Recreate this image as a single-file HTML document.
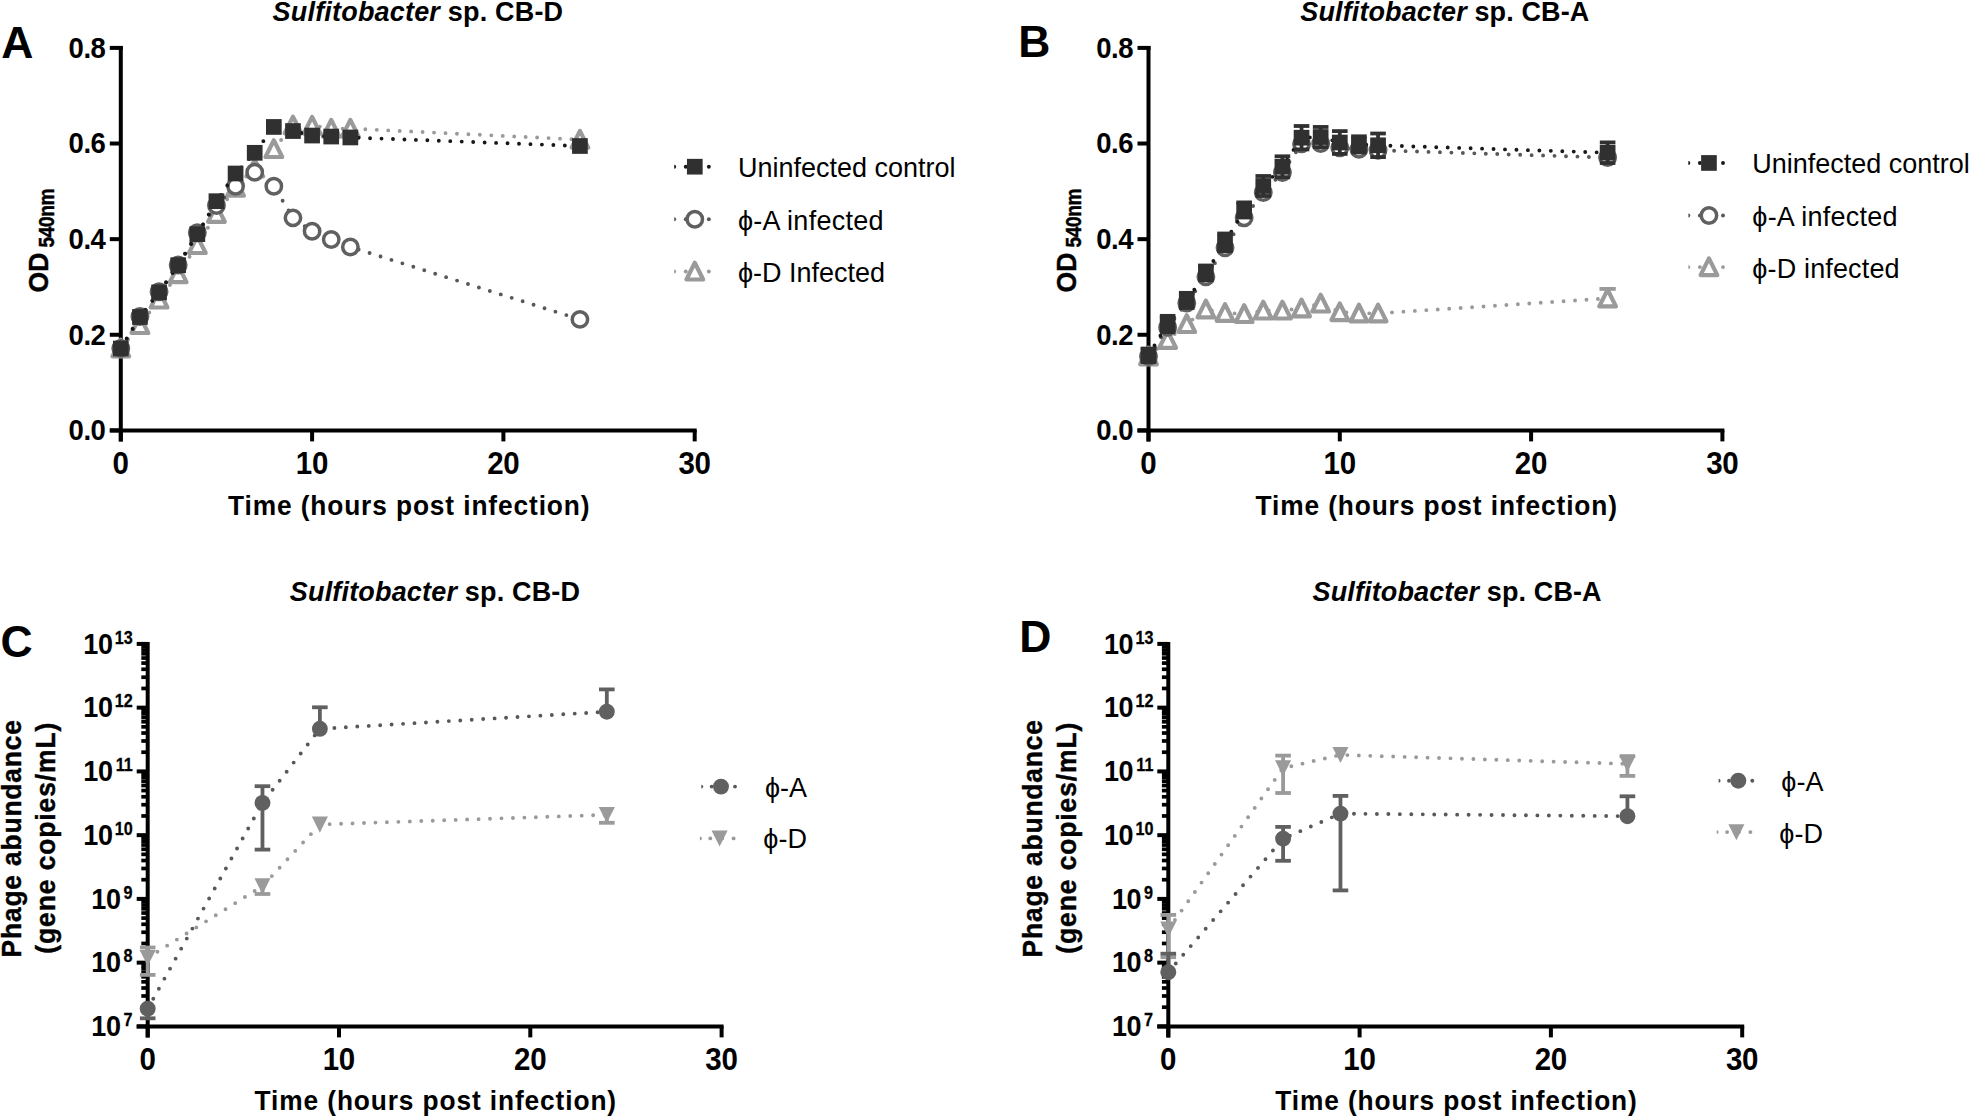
<!DOCTYPE html>
<html lang="en"><head><meta charset="utf-8"><title>Sulfitobacter phage infection figure</title>
<style>html,body{margin:0;padding:0;background:#fff;}body{width:1970px;height:1118px;overflow:hidden;}svg{display:block;font-family:'Liberation Sans', sans-serif;}</style></head><body>
<svg width="1970" height="1118" viewBox="0 0 1970 1118" role="img" aria-label="Growth curves and phage abundance for Sulfitobacter sp. CB-D and CB-A">
<rect width="1970" height="1118" fill="#fff"/>
<line x1="120.8" y1="45.9" x2="120.8" y2="441.4" stroke="#000" stroke-width="4" stroke-linecap="butt"/>
<line x1="109.8" y1="430.4" x2="696.7" y2="430.4" stroke="#000" stroke-width="4" stroke-linecap="butt"/>
<line x1="109.8" y1="430.4" x2="120.8" y2="430.4" stroke="#000" stroke-width="4" stroke-linecap="butt"/>
<text transform="translate(105.8 440.3) scale(1 1.08)" font-size="27.5" font-weight="bold" text-anchor="end" fill="#000" textLength="37.2" lengthAdjust="spacing">0.0</text>
<line x1="109.8" y1="334.77" x2="120.8" y2="334.77" stroke="#000" stroke-width="4" stroke-linecap="butt"/>
<text transform="translate(105.8 344.67) scale(1 1.08)" font-size="27.5" font-weight="bold" text-anchor="end" fill="#000" textLength="37.2" lengthAdjust="spacing">0.2</text>
<line x1="109.8" y1="239.15" x2="120.8" y2="239.15" stroke="#000" stroke-width="4" stroke-linecap="butt"/>
<text transform="translate(105.8 249.05) scale(1 1.08)" font-size="27.5" font-weight="bold" text-anchor="end" fill="#000" textLength="37.2" lengthAdjust="spacing">0.4</text>
<line x1="109.8" y1="143.52" x2="120.8" y2="143.52" stroke="#000" stroke-width="4" stroke-linecap="butt"/>
<text transform="translate(105.8 153.42) scale(1 1.08)" font-size="27.5" font-weight="bold" text-anchor="end" fill="#000" textLength="37.2" lengthAdjust="spacing">0.6</text>
<line x1="109.8" y1="47.9" x2="122.8" y2="47.9" stroke="#000" stroke-width="4" stroke-linecap="butt"/>
<text transform="translate(105.8 57.8) scale(1 1.08)" font-size="27.5" font-weight="bold" text-anchor="end" fill="#000" textLength="37.2" lengthAdjust="spacing">0.8</text>
<line x1="120.8" y1="430.4" x2="120.8" y2="441.4" stroke="#000" stroke-width="4" stroke-linecap="butt"/>
<text transform="translate(120.8 474.2) scale(1 1.04)" font-size="29.5" font-weight="bold" text-anchor="middle" fill="#000">0</text>
<line x1="312.1" y1="430.4" x2="312.1" y2="441.4" stroke="#000" stroke-width="4" stroke-linecap="butt"/>
<text transform="translate(312.1 474.2) scale(1 1.04)" font-size="29.5" font-weight="bold" text-anchor="middle" fill="#000" textLength="32.5" lengthAdjust="spacing">10</text>
<line x1="503.4" y1="430.4" x2="503.4" y2="441.4" stroke="#000" stroke-width="4" stroke-linecap="butt"/>
<text transform="translate(503.4 474.2) scale(1 1.04)" font-size="29.5" font-weight="bold" text-anchor="middle" fill="#000" textLength="32.5" lengthAdjust="spacing">20</text>
<line x1="694.7" y1="430.4" x2="694.7" y2="441.4" stroke="#000" stroke-width="4" stroke-linecap="butt"/>
<text transform="translate(694.7 474.2) scale(1 1.04)" font-size="29.5" font-weight="bold" text-anchor="middle" fill="#000" textLength="32.5" lengthAdjust="spacing">30</text>
<text transform="translate(1.2 57.5)" font-size="44.5" font-weight="bold" text-anchor="start" fill="#000">A</text>
<text transform="translate(272.6 21.4) scale(1 1.03)" font-size="27" font-weight="bold" fill="#000" textLength="290.5" lengthAdjust="spacing"><tspan font-style="italic">Sulfitobacter</tspan> sp. CB-D</text>
<text transform="translate(228 514.7) scale(1 1.04)" font-size="26.3" font-weight="bold" text-anchor="start" fill="#000" textLength="361.5" lengthAdjust="spacing">Time (hours post infection)</text>
<text transform="translate(48 292.4) rotate(-90) scale(1 1.07)" font-size="26.5" font-weight="bold" text-anchor="start" fill="#000" stroke="#000" stroke-width="0.4">OD</text>
<text transform="translate(53.6 247.4) rotate(-90) scale(1 1.13)" font-size="19" font-weight="bold" text-anchor="start" fill="#000" textLength="58.8" lengthAdjust="spacing" stroke="#000" stroke-width="0.4">540nm</text>
<line x1="1148.5" y1="45.9" x2="1148.5" y2="441.4" stroke="#000" stroke-width="4" stroke-linecap="butt"/>
<line x1="1137.5" y1="430.4" x2="1724.4" y2="430.4" stroke="#000" stroke-width="4" stroke-linecap="butt"/>
<line x1="1137.5" y1="430.4" x2="1148.5" y2="430.4" stroke="#000" stroke-width="4" stroke-linecap="butt"/>
<text transform="translate(1133.5 440.3) scale(1 1.08)" font-size="27.5" font-weight="bold" text-anchor="end" fill="#000" textLength="37.2" lengthAdjust="spacing">0.0</text>
<line x1="1137.5" y1="334.77" x2="1148.5" y2="334.77" stroke="#000" stroke-width="4" stroke-linecap="butt"/>
<text transform="translate(1133.5 344.67) scale(1 1.08)" font-size="27.5" font-weight="bold" text-anchor="end" fill="#000" textLength="37.2" lengthAdjust="spacing">0.2</text>
<line x1="1137.5" y1="239.15" x2="1148.5" y2="239.15" stroke="#000" stroke-width="4" stroke-linecap="butt"/>
<text transform="translate(1133.5 249.05) scale(1 1.08)" font-size="27.5" font-weight="bold" text-anchor="end" fill="#000" textLength="37.2" lengthAdjust="spacing">0.4</text>
<line x1="1137.5" y1="143.52" x2="1148.5" y2="143.52" stroke="#000" stroke-width="4" stroke-linecap="butt"/>
<text transform="translate(1133.5 153.42) scale(1 1.08)" font-size="27.5" font-weight="bold" text-anchor="end" fill="#000" textLength="37.2" lengthAdjust="spacing">0.6</text>
<line x1="1137.5" y1="47.9" x2="1150.5" y2="47.9" stroke="#000" stroke-width="4" stroke-linecap="butt"/>
<text transform="translate(1133.5 57.8) scale(1 1.08)" font-size="27.5" font-weight="bold" text-anchor="end" fill="#000" textLength="37.2" lengthAdjust="spacing">0.8</text>
<line x1="1148.5" y1="430.4" x2="1148.5" y2="441.4" stroke="#000" stroke-width="4" stroke-linecap="butt"/>
<text transform="translate(1148.5 474.2) scale(1 1.04)" font-size="29.5" font-weight="bold" text-anchor="middle" fill="#000">0</text>
<line x1="1339.8" y1="430.4" x2="1339.8" y2="441.4" stroke="#000" stroke-width="4" stroke-linecap="butt"/>
<text transform="translate(1339.8 474.2) scale(1 1.04)" font-size="29.5" font-weight="bold" text-anchor="middle" fill="#000" textLength="32.5" lengthAdjust="spacing">10</text>
<line x1="1531.1" y1="430.4" x2="1531.1" y2="441.4" stroke="#000" stroke-width="4" stroke-linecap="butt"/>
<text transform="translate(1531.1 474.2) scale(1 1.04)" font-size="29.5" font-weight="bold" text-anchor="middle" fill="#000" textLength="32.5" lengthAdjust="spacing">20</text>
<line x1="1722.4" y1="430.4" x2="1722.4" y2="441.4" stroke="#000" stroke-width="4" stroke-linecap="butt"/>
<text transform="translate(1722.4 474.2) scale(1 1.04)" font-size="29.5" font-weight="bold" text-anchor="middle" fill="#000" textLength="32.5" lengthAdjust="spacing">30</text>
<text transform="translate(1018.2 57)" font-size="44.5" font-weight="bold" text-anchor="start" fill="#000">B</text>
<text transform="translate(1300.3 21.4) scale(1 1.03)" font-size="27" font-weight="bold" fill="#000" textLength="289" lengthAdjust="spacing"><tspan font-style="italic">Sulfitobacter</tspan> sp. CB-A</text>
<text transform="translate(1255.5 514.7) scale(1 1.04)" font-size="26.3" font-weight="bold" text-anchor="start" fill="#000" textLength="361.5" lengthAdjust="spacing">Time (hours post infection)</text>
<text transform="translate(1075.5 292.4) rotate(-90) scale(1 1.07)" font-size="26.5" font-weight="bold" text-anchor="start" fill="#000" stroke="#000" stroke-width="0.4">OD</text>
<text transform="translate(1081.1 247.4) rotate(-90) scale(1 1.13)" font-size="19" font-weight="bold" text-anchor="start" fill="#000" textLength="58.8" lengthAdjust="spacing" stroke="#000" stroke-width="0.4">540nm</text>
<path d="M120.8 348.4 L139.93 325 L159.06 299.5 L178.19 274.1 L197.32 245 L216.45 213.8 L235.58 187.6 L254.71 168.4 L273.84 149 L292.97 125.3 L312.1 125.6 L331.23 128.6 L350.36 128.6" fill="none" stroke="#9a9a9a" stroke-width="3.9" stroke-linecap="round" stroke-linejoin="round" stroke-dasharray="0 11.464"/>
<path d="M350.36 128.6 L579.92 139.6" fill="none" stroke="#9a9a9a" stroke-width="3.9" stroke-linecap="round" stroke-dasharray="0 11.464" stroke-dashoffset="-3.54"/>
<path d="M120.8 339.7 L129.15 356.4 L112.45 356.4 Z" fill="#fff" stroke="#9a9a9a" stroke-width="4.2" stroke-linejoin="round"/>
<path d="M139.93 316.3 L148.28 333 L131.58 333 Z" fill="#fff" stroke="#9a9a9a" stroke-width="4.2" stroke-linejoin="round"/>
<path d="M159.06 290.8 L167.41 307.5 L150.71 307.5 Z" fill="#fff" stroke="#9a9a9a" stroke-width="4.2" stroke-linejoin="round"/>
<path d="M178.19 265.4 L186.54 282.1 L169.84 282.1 Z" fill="#fff" stroke="#9a9a9a" stroke-width="4.2" stroke-linejoin="round"/>
<path d="M197.32 236.3 L205.67 253 L188.97 253 Z" fill="#fff" stroke="#9a9a9a" stroke-width="4.2" stroke-linejoin="round"/>
<path d="M216.45 205.1 L224.8 221.8 L208.1 221.8 Z" fill="#fff" stroke="#9a9a9a" stroke-width="4.2" stroke-linejoin="round"/>
<path d="M235.58 178.9 L243.93 195.6 L227.23 195.6 Z" fill="#fff" stroke="#9a9a9a" stroke-width="4.2" stroke-linejoin="round"/>
<path d="M254.71 159.7 L263.06 176.4 L246.36 176.4 Z" fill="#fff" stroke="#9a9a9a" stroke-width="4.2" stroke-linejoin="round"/>
<path d="M273.84 140.3 L282.19 157 L265.49 157 Z" fill="#fff" stroke="#9a9a9a" stroke-width="4.2" stroke-linejoin="round"/>
<path d="M292.97 116.6 L301.32 133.3 L284.62 133.3 Z" fill="#fff" stroke="#9a9a9a" stroke-width="4.2" stroke-linejoin="round"/>
<path d="M312.1 116.9 L320.45 133.6 L303.75 133.6 Z" fill="#fff" stroke="#9a9a9a" stroke-width="4.2" stroke-linejoin="round"/>
<path d="M331.23 119.9 L339.58 136.6 L322.88 136.6 Z" fill="#fff" stroke="#9a9a9a" stroke-width="4.2" stroke-linejoin="round"/>
<path d="M350.36 119.9 L358.71 136.6 L342.01 136.6 Z" fill="#fff" stroke="#9a9a9a" stroke-width="4.2" stroke-linejoin="round"/>
<path d="M579.92 130.9 L588.27 147.6 L571.57 147.6 Z" fill="#fff" stroke="#9a9a9a" stroke-width="4.2" stroke-linejoin="round"/>
<path d="M120.8 348.4 L139.93 316.5 L159.06 291.8 L178.19 265 L197.32 232.8 L216.45 205.5 L235.58 186.3 L254.71 172.25 L273.84 186.2 L292.97 217.85 L312.1 231.3 L331.23 239.55 L350.36 246.95" fill="none" stroke="#585858" stroke-width="3.9" stroke-linecap="round" stroke-linejoin="round" stroke-dasharray="0 11.464"/>
<path d="M350.36 246.95 L579.92 319.4" fill="none" stroke="#585858" stroke-width="3.9" stroke-linecap="round" stroke-dasharray="0 11.464" stroke-dashoffset="-8.7"/>
<circle cx="120.8" cy="348.4" r="7.7" fill="#fff" stroke="#606060" stroke-width="3.5"/>
<circle cx="139.93" cy="316.5" r="7.7" fill="#fff" stroke="#606060" stroke-width="3.5"/>
<circle cx="159.06" cy="291.8" r="7.7" fill="#fff" stroke="#606060" stroke-width="3.5"/>
<circle cx="178.19" cy="265" r="7.7" fill="#fff" stroke="#606060" stroke-width="3.5"/>
<circle cx="197.32" cy="232.8" r="7.7" fill="#fff" stroke="#606060" stroke-width="3.5"/>
<circle cx="216.45" cy="205.5" r="7.7" fill="#fff" stroke="#606060" stroke-width="3.5"/>
<circle cx="235.58" cy="186.3" r="7.7" fill="#fff" stroke="#606060" stroke-width="3.5"/>
<circle cx="254.71" cy="172.25" r="7.7" fill="#fff" stroke="#606060" stroke-width="3.5"/>
<circle cx="273.84" cy="186.2" r="7.7" fill="#fff" stroke="#606060" stroke-width="3.5"/>
<circle cx="292.97" cy="217.85" r="7.7" fill="#fff" stroke="#606060" stroke-width="3.5"/>
<circle cx="312.1" cy="231.3" r="7.7" fill="#fff" stroke="#606060" stroke-width="3.5"/>
<circle cx="331.23" cy="239.55" r="7.7" fill="#fff" stroke="#606060" stroke-width="3.5"/>
<circle cx="350.36" cy="246.95" r="7.7" fill="#fff" stroke="#606060" stroke-width="3.5"/>
<circle cx="579.92" cy="319.4" r="7.7" fill="#fff" stroke="#606060" stroke-width="3.5"/>
<path d="M120.8 348.5 L139.93 317 L159.06 292.4 L178.19 265.2 L197.32 234.15 L216.45 201.2 L235.58 173.5 L254.71 152.8 L273.84 126.95 L292.97 131.05 L312.1 135.55 L331.23 136.55 L350.36 137.45" fill="none" stroke="#181818" stroke-width="3.9" stroke-linecap="round" stroke-linejoin="round" stroke-dasharray="0 11.464"/>
<path d="M350.36 137.45 L579.92 146" fill="none" stroke="#181818" stroke-width="3.9" stroke-linecap="round" stroke-dasharray="0 11.464" stroke-dashoffset="-8.26"/>
<rect x="112.95" y="340.65" width="15.7" height="15.7" fill="#303030"/>
<rect x="132.08" y="309.15" width="15.7" height="15.7" fill="#303030"/>
<rect x="151.21" y="284.55" width="15.7" height="15.7" fill="#303030"/>
<rect x="170.34" y="257.35" width="15.7" height="15.7" fill="#303030"/>
<rect x="189.47" y="226.3" width="15.7" height="15.7" fill="#303030"/>
<rect x="208.6" y="193.35" width="15.7" height="15.7" fill="#303030"/>
<rect x="227.73" y="165.65" width="15.7" height="15.7" fill="#303030"/>
<rect x="246.86" y="144.95" width="15.7" height="15.7" fill="#303030"/>
<rect x="265.99" y="119.1" width="15.7" height="15.7" fill="#303030"/>
<rect x="285.12" y="123.2" width="15.7" height="15.7" fill="#303030"/>
<rect x="304.25" y="127.7" width="15.7" height="15.7" fill="#303030"/>
<rect x="323.38" y="128.7" width="15.7" height="15.7" fill="#303030"/>
<rect x="342.51" y="129.6" width="15.7" height="15.7" fill="#303030"/>
<rect x="572.07" y="138.15" width="15.7" height="15.7" fill="#303030"/>
<circle cx="674.2" cy="166.7" r="1.95" fill="#181818"/>
<circle cx="685.75" cy="166.7" r="1.95" fill="#181818"/>
<circle cx="697.3" cy="166.7" r="1.95" fill="#181818"/>
<circle cx="708.85" cy="166.7" r="1.95" fill="#181818"/>
<rect x="670.8" y="163.7" width="3.4" height="6" fill="#fff"/>
<circle cx="674.2" cy="219.3" r="1.95" fill="#585858"/>
<circle cx="685.75" cy="219.3" r="1.95" fill="#585858"/>
<circle cx="697.3" cy="219.3" r="1.95" fill="#585858"/>
<circle cx="708.85" cy="219.3" r="1.95" fill="#585858"/>
<rect x="670.8" y="216.3" width="3.4" height="6" fill="#fff"/>
<circle cx="674.2" cy="271.5" r="1.95" fill="#9a9a9a"/>
<circle cx="685.75" cy="271.5" r="1.95" fill="#9a9a9a"/>
<circle cx="697.3" cy="271.5" r="1.95" fill="#9a9a9a"/>
<circle cx="708.85" cy="271.5" r="1.95" fill="#9a9a9a"/>
<rect x="670.8" y="268.5" width="3.4" height="6" fill="#fff"/>
<rect x="686.95" y="158.85" width="15.7" height="15.7" fill="#303030"/>
<circle cx="694.8" cy="219.3" r="7.7" fill="#fff" stroke="#606060" stroke-width="3.5"/>
<path d="M694.8 262.8 L703.15 279.5 L686.45 279.5 Z" fill="#fff" stroke="#9a9a9a" stroke-width="4.2" stroke-linejoin="round"/>
<text transform="translate(737.9 177.1) scale(1 1.03)" font-size="27" font-weight="normal" text-anchor="start" fill="#000">Uninfected control</text>
<text transform="translate(737.9 230) scale(1 1.03)" font-size="27" font-weight="normal" text-anchor="start" fill="#000" textLength="145.6" lengthAdjust="spacing">ϕ-A infected</text>
<text transform="translate(737.9 281.8) scale(1 1.03)" font-size="27" font-weight="normal" text-anchor="start" fill="#000">ϕ-D Infected</text>
<circle cx="1688.35" cy="162.95" r="1.95" fill="#181818"/>
<circle cx="1699.9" cy="162.95" r="1.95" fill="#181818"/>
<circle cx="1711.45" cy="162.95" r="1.95" fill="#181818"/>
<circle cx="1723" cy="162.95" r="1.95" fill="#181818"/>
<rect x="1684.95" y="159.95" width="3.4" height="6" fill="#fff"/>
<circle cx="1688.35" cy="215.5" r="1.95" fill="#585858"/>
<circle cx="1699.9" cy="215.5" r="1.95" fill="#585858"/>
<circle cx="1711.45" cy="215.5" r="1.95" fill="#585858"/>
<circle cx="1723" cy="215.5" r="1.95" fill="#585858"/>
<rect x="1684.95" y="212.5" width="3.4" height="6" fill="#fff"/>
<circle cx="1688.35" cy="267.1" r="1.95" fill="#9a9a9a"/>
<circle cx="1699.9" cy="267.1" r="1.95" fill="#9a9a9a"/>
<circle cx="1711.45" cy="267.1" r="1.95" fill="#9a9a9a"/>
<circle cx="1723" cy="267.1" r="1.95" fill="#9a9a9a"/>
<rect x="1684.95" y="264.1" width="3.4" height="6" fill="#fff"/>
<rect x="1701.1" y="155.1" width="15.7" height="15.7" fill="#303030"/>
<circle cx="1708.95" cy="215.5" r="7.7" fill="#fff" stroke="#606060" stroke-width="3.5"/>
<path d="M1708.95 258.4 L1717.3 275.1 L1700.6 275.1 Z" fill="#fff" stroke="#9a9a9a" stroke-width="4.2" stroke-linejoin="round"/>
<text transform="translate(1752.3 173.3) scale(1 1.03)" font-size="27" font-weight="normal" text-anchor="start" fill="#000">Uninfected control</text>
<text transform="translate(1752.3 226.4) scale(1 1.03)" font-size="27" font-weight="normal" text-anchor="start" fill="#000" textLength="145.3" lengthAdjust="spacing">ϕ-A infected</text>
<text transform="translate(1752.3 277.8) scale(1 1.03)" font-size="27" font-weight="normal" text-anchor="start" fill="#000" textLength="147.3" lengthAdjust="spacing">ϕ-D infected</text>
<path d="M1148.5 356.3 L1167.63 339.8 L1186.76 324 L1205.89 309.4 L1225.02 312.8 L1244.15 314 L1263.28 310.5 L1282.41 310.5 L1301.54 308.3 L1320.67 303.5 L1339.8 312.05 L1358.93 313.45 L1378.06 313.3" fill="none" stroke="#9a9a9a" stroke-width="3.9" stroke-linecap="round" stroke-linejoin="round" stroke-dasharray="0 11.464"/>
<path d="M1378.06 313.3 L1607.62 298.4" fill="none" stroke="#9a9a9a" stroke-width="3.9" stroke-linecap="round" stroke-dasharray="0 11.464" stroke-dashoffset="-2.5"/>
<line x1="1607.62" y1="288.9" x2="1607.62" y2="300" stroke="#9a9a9a" stroke-width="3.8" stroke-linecap="butt"/>
<line x1="1599.47" y1="288.9" x2="1615.77" y2="288.9" stroke="#9a9a9a" stroke-width="3.8" stroke-linecap="butt"/>
<path d="M1148.5 347.6 L1156.85 364.3 L1140.15 364.3 Z" fill="#fff" stroke="#9a9a9a" stroke-width="4.2" stroke-linejoin="round"/>
<path d="M1167.63 331.1 L1175.98 347.8 L1159.28 347.8 Z" fill="#fff" stroke="#9a9a9a" stroke-width="4.2" stroke-linejoin="round"/>
<path d="M1186.76 315.3 L1195.11 332 L1178.41 332 Z" fill="#fff" stroke="#9a9a9a" stroke-width="4.2" stroke-linejoin="round"/>
<path d="M1205.89 300.7 L1214.24 317.4 L1197.54 317.4 Z" fill="#fff" stroke="#9a9a9a" stroke-width="4.2" stroke-linejoin="round"/>
<path d="M1225.02 304.1 L1233.37 320.8 L1216.67 320.8 Z" fill="#fff" stroke="#9a9a9a" stroke-width="4.2" stroke-linejoin="round"/>
<path d="M1244.15 305.3 L1252.5 322 L1235.8 322 Z" fill="#fff" stroke="#9a9a9a" stroke-width="4.2" stroke-linejoin="round"/>
<path d="M1263.28 301.8 L1271.63 318.5 L1254.93 318.5 Z" fill="#fff" stroke="#9a9a9a" stroke-width="4.2" stroke-linejoin="round"/>
<path d="M1282.41 301.8 L1290.76 318.5 L1274.06 318.5 Z" fill="#fff" stroke="#9a9a9a" stroke-width="4.2" stroke-linejoin="round"/>
<path d="M1301.54 299.6 L1309.89 316.3 L1293.19 316.3 Z" fill="#fff" stroke="#9a9a9a" stroke-width="4.2" stroke-linejoin="round"/>
<path d="M1320.67 294.8 L1329.02 311.5 L1312.32 311.5 Z" fill="#fff" stroke="#9a9a9a" stroke-width="4.2" stroke-linejoin="round"/>
<path d="M1339.8 303.35 L1348.15 320.05 L1331.45 320.05 Z" fill="#fff" stroke="#9a9a9a" stroke-width="4.2" stroke-linejoin="round"/>
<path d="M1358.93 304.75 L1367.28 321.45 L1350.58 321.45 Z" fill="#fff" stroke="#9a9a9a" stroke-width="4.2" stroke-linejoin="round"/>
<path d="M1378.06 304.6 L1386.41 321.3 L1369.71 321.3 Z" fill="#fff" stroke="#9a9a9a" stroke-width="4.2" stroke-linejoin="round"/>
<path d="M1607.62 289.7 L1615.97 306.4 L1599.27 306.4 Z" fill="#fff" stroke="#9a9a9a" stroke-width="4.2" stroke-linejoin="round"/>
<path d="M1148.5 356.5 L1167.63 327.4 L1186.76 303.05 L1205.89 276.85 L1225.02 247.75 L1244.15 217.75 L1263.28 192.5 L1282.41 172.5 L1301.54 143.9 L1320.67 143.5 L1339.8 147.8 L1358.93 149.25 L1378.06 150.3" fill="none" stroke="#585858" stroke-width="3.9" stroke-linecap="round" stroke-linejoin="round" stroke-dasharray="0 11.464"/>
<path d="M1378.06 150.3 L1607.62 157.55" fill="none" stroke="#585858" stroke-width="3.9" stroke-linecap="round" stroke-dasharray="0 11.464" stroke-dashoffset="-4.6"/>
<circle cx="1148.5" cy="356.5" r="7.7" fill="#fff" stroke="#606060" stroke-width="3.5"/>
<circle cx="1167.63" cy="327.4" r="7.7" fill="#fff" stroke="#606060" stroke-width="3.5"/>
<circle cx="1186.76" cy="303.05" r="7.7" fill="#fff" stroke="#606060" stroke-width="3.5"/>
<circle cx="1205.89" cy="276.85" r="7.7" fill="#fff" stroke="#606060" stroke-width="3.5"/>
<circle cx="1225.02" cy="247.75" r="7.7" fill="#fff" stroke="#606060" stroke-width="3.5"/>
<circle cx="1244.15" cy="217.75" r="7.7" fill="#fff" stroke="#606060" stroke-width="3.5"/>
<circle cx="1263.28" cy="192.5" r="7.7" fill="#fff" stroke="#606060" stroke-width="3.5"/>
<circle cx="1282.41" cy="172.5" r="7.7" fill="#fff" stroke="#606060" stroke-width="3.5"/>
<circle cx="1301.54" cy="143.9" r="7.7" fill="#fff" stroke="#606060" stroke-width="3.5"/>
<circle cx="1320.67" cy="143.5" r="7.7" fill="#fff" stroke="#606060" stroke-width="3.5"/>
<circle cx="1339.8" cy="147.8" r="7.7" fill="#fff" stroke="#606060" stroke-width="3.5"/>
<circle cx="1358.93" cy="149.25" r="7.7" fill="#fff" stroke="#606060" stroke-width="3.5"/>
<circle cx="1378.06" cy="150.3" r="7.7" fill="#fff" stroke="#606060" stroke-width="3.5"/>
<circle cx="1607.62" cy="157.55" r="7.7" fill="#fff" stroke="#606060" stroke-width="3.5"/>
<path d="M1148.5 355.3 L1167.63 323.95 L1186.76 300.4 L1205.89 272.9 L1225.02 242.35 L1244.15 209.95 L1263.28 186 L1282.41 166.75 L1301.54 137.7 L1320.67 137.05 L1339.8 142.5 L1358.93 144.4 L1378.06 145.3" fill="none" stroke="#181818" stroke-width="3.9" stroke-linecap="round" stroke-linejoin="round" stroke-dasharray="0 11.464"/>
<path d="M1378.06 145.3 L1607.62 152.7" fill="none" stroke="#181818" stroke-width="3.9" stroke-linecap="round" stroke-dasharray="0 11.464" stroke-dashoffset="-0.9"/>
<line x1="1148.5" y1="348.55" x2="1148.5" y2="362.05" stroke="#303030" stroke-width="3.8" stroke-linecap="butt"/>
<line x1="1140.7" y1="348.55" x2="1156.3" y2="348.55" stroke="#303030" stroke-width="3.8" stroke-linecap="butt"/>
<line x1="1140.7" y1="362.05" x2="1156.3" y2="362.05" stroke="#303030" stroke-width="3.8" stroke-linecap="butt"/>
<line x1="1167.63" y1="315.85" x2="1167.63" y2="332.05" stroke="#303030" stroke-width="3.8" stroke-linecap="butt"/>
<line x1="1159.83" y1="315.85" x2="1175.43" y2="315.85" stroke="#303030" stroke-width="3.8" stroke-linecap="butt"/>
<line x1="1159.83" y1="332.05" x2="1175.43" y2="332.05" stroke="#303030" stroke-width="3.8" stroke-linecap="butt"/>
<line x1="1186.76" y1="292.85" x2="1186.76" y2="307.95" stroke="#303030" stroke-width="3.8" stroke-linecap="butt"/>
<line x1="1178.96" y1="292.85" x2="1194.56" y2="292.85" stroke="#303030" stroke-width="3.8" stroke-linecap="butt"/>
<line x1="1178.96" y1="307.95" x2="1194.56" y2="307.95" stroke="#303030" stroke-width="3.8" stroke-linecap="butt"/>
<line x1="1205.89" y1="265.5" x2="1205.89" y2="280.3" stroke="#303030" stroke-width="3.8" stroke-linecap="butt"/>
<line x1="1198.09" y1="265.5" x2="1213.69" y2="265.5" stroke="#303030" stroke-width="3.8" stroke-linecap="butt"/>
<line x1="1198.09" y1="280.3" x2="1213.69" y2="280.3" stroke="#303030" stroke-width="3.8" stroke-linecap="butt"/>
<line x1="1225.02" y1="233.5" x2="1225.02" y2="251.2" stroke="#303030" stroke-width="3.8" stroke-linecap="butt"/>
<line x1="1217.22" y1="233.5" x2="1232.82" y2="233.5" stroke="#303030" stroke-width="3.8" stroke-linecap="butt"/>
<line x1="1217.22" y1="251.2" x2="1232.82" y2="251.2" stroke="#303030" stroke-width="3.8" stroke-linecap="butt"/>
<line x1="1244.15" y1="202.4" x2="1244.15" y2="217.5" stroke="#303030" stroke-width="3.8" stroke-linecap="butt"/>
<line x1="1236.35" y1="202.4" x2="1251.95" y2="202.4" stroke="#303030" stroke-width="3.8" stroke-linecap="butt"/>
<line x1="1236.35" y1="217.5" x2="1251.95" y2="217.5" stroke="#303030" stroke-width="3.8" stroke-linecap="butt"/>
<line x1="1263.28" y1="176" x2="1263.28" y2="196" stroke="#303030" stroke-width="3.8" stroke-linecap="butt"/>
<line x1="1255.48" y1="176" x2="1271.08" y2="176" stroke="#303030" stroke-width="3.8" stroke-linecap="butt"/>
<line x1="1255.48" y1="196" x2="1271.08" y2="196" stroke="#303030" stroke-width="3.8" stroke-linecap="butt"/>
<line x1="1282.41" y1="156.3" x2="1282.41" y2="177.2" stroke="#303030" stroke-width="3.8" stroke-linecap="butt"/>
<line x1="1274.61" y1="156.3" x2="1290.21" y2="156.3" stroke="#303030" stroke-width="3.8" stroke-linecap="butt"/>
<line x1="1274.61" y1="177.2" x2="1290.21" y2="177.2" stroke="#303030" stroke-width="3.8" stroke-linecap="butt"/>
<line x1="1301.54" y1="126" x2="1301.54" y2="149.4" stroke="#303030" stroke-width="3.8" stroke-linecap="butt"/>
<line x1="1293.74" y1="126" x2="1309.34" y2="126" stroke="#303030" stroke-width="3.8" stroke-linecap="butt"/>
<line x1="1293.74" y1="149.4" x2="1309.34" y2="149.4" stroke="#303030" stroke-width="3.8" stroke-linecap="butt"/>
<line x1="1320.67" y1="126.95" x2="1320.67" y2="147.15" stroke="#303030" stroke-width="3.8" stroke-linecap="butt"/>
<line x1="1312.87" y1="126.95" x2="1328.47" y2="126.95" stroke="#303030" stroke-width="3.8" stroke-linecap="butt"/>
<line x1="1312.87" y1="147.15" x2="1328.47" y2="147.15" stroke="#303030" stroke-width="3.8" stroke-linecap="butt"/>
<line x1="1339.8" y1="131.1" x2="1339.8" y2="153.9" stroke="#303030" stroke-width="3.8" stroke-linecap="butt"/>
<line x1="1332" y1="131.1" x2="1347.6" y2="131.1" stroke="#303030" stroke-width="3.8" stroke-linecap="butt"/>
<line x1="1332" y1="153.9" x2="1347.6" y2="153.9" stroke="#303030" stroke-width="3.8" stroke-linecap="butt"/>
<line x1="1358.93" y1="136.3" x2="1358.93" y2="152.5" stroke="#303030" stroke-width="3.8" stroke-linecap="butt"/>
<line x1="1351.13" y1="136.3" x2="1366.73" y2="136.3" stroke="#303030" stroke-width="3.8" stroke-linecap="butt"/>
<line x1="1351.13" y1="152.5" x2="1366.73" y2="152.5" stroke="#303030" stroke-width="3.8" stroke-linecap="butt"/>
<line x1="1378.06" y1="133.5" x2="1378.06" y2="157.1" stroke="#303030" stroke-width="3.8" stroke-linecap="butt"/>
<line x1="1370.26" y1="133.5" x2="1385.86" y2="133.5" stroke="#303030" stroke-width="3.8" stroke-linecap="butt"/>
<line x1="1370.26" y1="157.1" x2="1385.86" y2="157.1" stroke="#303030" stroke-width="3.8" stroke-linecap="butt"/>
<line x1="1607.62" y1="142.4" x2="1607.62" y2="163" stroke="#303030" stroke-width="3.8" stroke-linecap="butt"/>
<line x1="1599.82" y1="142.4" x2="1615.42" y2="142.4" stroke="#303030" stroke-width="3.8" stroke-linecap="butt"/>
<line x1="1599.82" y1="163" x2="1615.42" y2="163" stroke="#303030" stroke-width="3.8" stroke-linecap="butt"/>
<rect x="1140.65" y="347.45" width="15.7" height="15.7" fill="#303030"/>
<rect x="1159.78" y="316.1" width="15.7" height="15.7" fill="#303030"/>
<rect x="1178.91" y="292.55" width="15.7" height="15.7" fill="#303030"/>
<rect x="1198.04" y="265.05" width="15.7" height="15.7" fill="#303030"/>
<rect x="1217.17" y="234.5" width="15.7" height="15.7" fill="#303030"/>
<rect x="1236.3" y="202.1" width="15.7" height="15.7" fill="#303030"/>
<rect x="1255.43" y="178.15" width="15.7" height="15.7" fill="#303030"/>
<rect x="1274.56" y="158.9" width="15.7" height="15.7" fill="#303030"/>
<rect x="1293.69" y="129.85" width="15.7" height="15.7" fill="#303030"/>
<rect x="1312.82" y="129.2" width="15.7" height="15.7" fill="#303030"/>
<rect x="1331.95" y="134.65" width="15.7" height="15.7" fill="#303030"/>
<rect x="1351.08" y="136.55" width="15.7" height="15.7" fill="#303030"/>
<rect x="1370.21" y="137.45" width="15.7" height="15.7" fill="#303030"/>
<rect x="1599.77" y="144.85" width="15.7" height="15.7" fill="#303030"/>
<line x1="147.7" y1="641.9" x2="147.7" y2="1037.4" stroke="#000" stroke-width="4" stroke-linecap="butt"/>
<line x1="136.7" y1="1026.4" x2="723.6" y2="1026.4" stroke="#000" stroke-width="4" stroke-linecap="butt"/>
<line x1="136.7" y1="1026.4" x2="147.7" y2="1026.4" stroke="#000" stroke-width="4" stroke-linecap="butt"/>
<text transform="translate(132.5 1026.2) scale(1 1.09)" font-size="16.2" font-weight="bold" text-anchor="end" fill="#000" stroke="#000" stroke-width="0.25">7</text>
<text transform="translate(120.9 1036.1) scale(1 1.08)" font-size="27" font-weight="bold" text-anchor="end" fill="#000" textLength="29.6" lengthAdjust="spacing">10</text>
<line x1="141.3" y1="1007.21" x2="147.7" y2="1007.21" stroke="#000" stroke-width="3.7" stroke-linecap="butt"/>
<line x1="141.3" y1="995.98" x2="147.7" y2="995.98" stroke="#000" stroke-width="3.7" stroke-linecap="butt"/>
<line x1="141.3" y1="988.02" x2="147.7" y2="988.02" stroke="#000" stroke-width="3.7" stroke-linecap="butt"/>
<line x1="141.3" y1="981.84" x2="147.7" y2="981.84" stroke="#000" stroke-width="3.7" stroke-linecap="butt"/>
<line x1="141.3" y1="976.79" x2="147.7" y2="976.79" stroke="#000" stroke-width="3.7" stroke-linecap="butt"/>
<line x1="141.3" y1="972.52" x2="147.7" y2="972.52" stroke="#000" stroke-width="3.7" stroke-linecap="butt"/>
<line x1="141.3" y1="968.83" x2="147.7" y2="968.83" stroke="#000" stroke-width="3.7" stroke-linecap="butt"/>
<line x1="141.3" y1="965.57" x2="147.7" y2="965.57" stroke="#000" stroke-width="3.7" stroke-linecap="butt"/>
<line x1="136.7" y1="962.65" x2="147.7" y2="962.65" stroke="#000" stroke-width="4" stroke-linecap="butt"/>
<text transform="translate(132.5 962.45) scale(1 1.09)" font-size="16.2" font-weight="bold" text-anchor="end" fill="#000" stroke="#000" stroke-width="0.25">8</text>
<text transform="translate(120.9 972.35) scale(1 1.08)" font-size="27" font-weight="bold" text-anchor="end" fill="#000" textLength="29.6" lengthAdjust="spacing">10</text>
<line x1="141.3" y1="943.46" x2="147.7" y2="943.46" stroke="#000" stroke-width="3.7" stroke-linecap="butt"/>
<line x1="141.3" y1="932.23" x2="147.7" y2="932.23" stroke="#000" stroke-width="3.7" stroke-linecap="butt"/>
<line x1="141.3" y1="924.27" x2="147.7" y2="924.27" stroke="#000" stroke-width="3.7" stroke-linecap="butt"/>
<line x1="141.3" y1="918.09" x2="147.7" y2="918.09" stroke="#000" stroke-width="3.7" stroke-linecap="butt"/>
<line x1="141.3" y1="913.04" x2="147.7" y2="913.04" stroke="#000" stroke-width="3.7" stroke-linecap="butt"/>
<line x1="141.3" y1="908.77" x2="147.7" y2="908.77" stroke="#000" stroke-width="3.7" stroke-linecap="butt"/>
<line x1="141.3" y1="905.08" x2="147.7" y2="905.08" stroke="#000" stroke-width="3.7" stroke-linecap="butt"/>
<line x1="141.3" y1="901.82" x2="147.7" y2="901.82" stroke="#000" stroke-width="3.7" stroke-linecap="butt"/>
<line x1="136.7" y1="898.9" x2="147.7" y2="898.9" stroke="#000" stroke-width="4" stroke-linecap="butt"/>
<text transform="translate(132.5 898.7) scale(1 1.09)" font-size="16.2" font-weight="bold" text-anchor="end" fill="#000" stroke="#000" stroke-width="0.25">9</text>
<text transform="translate(120.9 908.6) scale(1 1.08)" font-size="27" font-weight="bold" text-anchor="end" fill="#000" textLength="29.6" lengthAdjust="spacing">10</text>
<line x1="141.3" y1="879.71" x2="147.7" y2="879.71" stroke="#000" stroke-width="3.7" stroke-linecap="butt"/>
<line x1="141.3" y1="868.48" x2="147.7" y2="868.48" stroke="#000" stroke-width="3.7" stroke-linecap="butt"/>
<line x1="141.3" y1="860.52" x2="147.7" y2="860.52" stroke="#000" stroke-width="3.7" stroke-linecap="butt"/>
<line x1="141.3" y1="854.34" x2="147.7" y2="854.34" stroke="#000" stroke-width="3.7" stroke-linecap="butt"/>
<line x1="141.3" y1="849.29" x2="147.7" y2="849.29" stroke="#000" stroke-width="3.7" stroke-linecap="butt"/>
<line x1="141.3" y1="845.02" x2="147.7" y2="845.02" stroke="#000" stroke-width="3.7" stroke-linecap="butt"/>
<line x1="141.3" y1="841.33" x2="147.7" y2="841.33" stroke="#000" stroke-width="3.7" stroke-linecap="butt"/>
<line x1="141.3" y1="838.07" x2="147.7" y2="838.07" stroke="#000" stroke-width="3.7" stroke-linecap="butt"/>
<line x1="136.7" y1="835.15" x2="147.7" y2="835.15" stroke="#000" stroke-width="4" stroke-linecap="butt"/>
<text transform="translate(132.8 834.95) scale(1 1.09)" font-size="16.2" font-weight="bold" text-anchor="end" fill="#000" stroke="#000" stroke-width="0.25">10</text>
<text transform="translate(112.9 844.85) scale(1 1.08)" font-size="27" font-weight="bold" text-anchor="end" fill="#000" textLength="29.6" lengthAdjust="spacing">10</text>
<line x1="141.3" y1="815.96" x2="147.7" y2="815.96" stroke="#000" stroke-width="3.7" stroke-linecap="butt"/>
<line x1="141.3" y1="804.73" x2="147.7" y2="804.73" stroke="#000" stroke-width="3.7" stroke-linecap="butt"/>
<line x1="141.3" y1="796.77" x2="147.7" y2="796.77" stroke="#000" stroke-width="3.7" stroke-linecap="butt"/>
<line x1="141.3" y1="790.59" x2="147.7" y2="790.59" stroke="#000" stroke-width="3.7" stroke-linecap="butt"/>
<line x1="141.3" y1="785.54" x2="147.7" y2="785.54" stroke="#000" stroke-width="3.7" stroke-linecap="butt"/>
<line x1="141.3" y1="781.27" x2="147.7" y2="781.27" stroke="#000" stroke-width="3.7" stroke-linecap="butt"/>
<line x1="141.3" y1="777.58" x2="147.7" y2="777.58" stroke="#000" stroke-width="3.7" stroke-linecap="butt"/>
<line x1="141.3" y1="774.32" x2="147.7" y2="774.32" stroke="#000" stroke-width="3.7" stroke-linecap="butt"/>
<line x1="136.7" y1="771.4" x2="147.7" y2="771.4" stroke="#000" stroke-width="4" stroke-linecap="butt"/>
<text transform="translate(132.8 771.2) scale(1 1.09)" font-size="16.2" font-weight="bold" text-anchor="end" fill="#000" stroke="#000" stroke-width="0.25">11</text>
<text transform="translate(112.9 781.1) scale(1 1.08)" font-size="27" font-weight="bold" text-anchor="end" fill="#000" textLength="29.6" lengthAdjust="spacing">10</text>
<line x1="141.3" y1="752.21" x2="147.7" y2="752.21" stroke="#000" stroke-width="3.7" stroke-linecap="butt"/>
<line x1="141.3" y1="740.98" x2="147.7" y2="740.98" stroke="#000" stroke-width="3.7" stroke-linecap="butt"/>
<line x1="141.3" y1="733.02" x2="147.7" y2="733.02" stroke="#000" stroke-width="3.7" stroke-linecap="butt"/>
<line x1="141.3" y1="726.84" x2="147.7" y2="726.84" stroke="#000" stroke-width="3.7" stroke-linecap="butt"/>
<line x1="141.3" y1="721.79" x2="147.7" y2="721.79" stroke="#000" stroke-width="3.7" stroke-linecap="butt"/>
<line x1="141.3" y1="717.52" x2="147.7" y2="717.52" stroke="#000" stroke-width="3.7" stroke-linecap="butt"/>
<line x1="141.3" y1="713.83" x2="147.7" y2="713.83" stroke="#000" stroke-width="3.7" stroke-linecap="butt"/>
<line x1="141.3" y1="710.57" x2="147.7" y2="710.57" stroke="#000" stroke-width="3.7" stroke-linecap="butt"/>
<line x1="136.7" y1="707.65" x2="147.7" y2="707.65" stroke="#000" stroke-width="4" stroke-linecap="butt"/>
<text transform="translate(132.8 707.45) scale(1 1.09)" font-size="16.2" font-weight="bold" text-anchor="end" fill="#000" stroke="#000" stroke-width="0.25">12</text>
<text transform="translate(112.9 717.35) scale(1 1.08)" font-size="27" font-weight="bold" text-anchor="end" fill="#000" textLength="29.6" lengthAdjust="spacing">10</text>
<line x1="141.3" y1="688.46" x2="147.7" y2="688.46" stroke="#000" stroke-width="3.7" stroke-linecap="butt"/>
<line x1="141.3" y1="677.23" x2="147.7" y2="677.23" stroke="#000" stroke-width="3.7" stroke-linecap="butt"/>
<line x1="141.3" y1="669.27" x2="147.7" y2="669.27" stroke="#000" stroke-width="3.7" stroke-linecap="butt"/>
<line x1="141.3" y1="663.09" x2="147.7" y2="663.09" stroke="#000" stroke-width="3.7" stroke-linecap="butt"/>
<line x1="141.3" y1="658.04" x2="147.7" y2="658.04" stroke="#000" stroke-width="3.7" stroke-linecap="butt"/>
<line x1="141.3" y1="653.77" x2="147.7" y2="653.77" stroke="#000" stroke-width="3.7" stroke-linecap="butt"/>
<line x1="141.3" y1="650.08" x2="147.7" y2="650.08" stroke="#000" stroke-width="3.7" stroke-linecap="butt"/>
<line x1="141.3" y1="646.82" x2="147.7" y2="646.82" stroke="#000" stroke-width="3.7" stroke-linecap="butt"/>
<line x1="136.7" y1="643.9" x2="147.7" y2="643.9" stroke="#000" stroke-width="4" stroke-linecap="butt"/>
<text transform="translate(132.8 643.7) scale(1 1.09)" font-size="16.2" font-weight="bold" text-anchor="end" fill="#000" stroke="#000" stroke-width="0.25">13</text>
<text transform="translate(112.9 653.6) scale(1 1.08)" font-size="27" font-weight="bold" text-anchor="end" fill="#000" textLength="29.6" lengthAdjust="spacing">10</text>
<line x1="147.7" y1="1026.4" x2="147.7" y2="1037.4" stroke="#000" stroke-width="4" stroke-linecap="butt"/>
<text transform="translate(147.7 1070) scale(1 1.04)" font-size="29.5" font-weight="bold" text-anchor="middle" fill="#000">0</text>
<line x1="339" y1="1026.4" x2="339" y2="1037.4" stroke="#000" stroke-width="4" stroke-linecap="butt"/>
<text transform="translate(339 1070) scale(1 1.04)" font-size="29.5" font-weight="bold" text-anchor="middle" fill="#000" textLength="32.5" lengthAdjust="spacing">10</text>
<line x1="530.3" y1="1026.4" x2="530.3" y2="1037.4" stroke="#000" stroke-width="4" stroke-linecap="butt"/>
<text transform="translate(530.3 1070) scale(1 1.04)" font-size="29.5" font-weight="bold" text-anchor="middle" fill="#000" textLength="32.5" lengthAdjust="spacing">20</text>
<line x1="721.6" y1="1026.4" x2="721.6" y2="1037.4" stroke="#000" stroke-width="4" stroke-linecap="butt"/>
<text transform="translate(721.6 1070) scale(1 1.04)" font-size="29.5" font-weight="bold" text-anchor="middle" fill="#000" textLength="32.5" lengthAdjust="spacing">30</text>
<text transform="translate(0.5 656.8)" font-size="44.5" font-weight="bold" text-anchor="start" fill="#000">C</text>
<text transform="translate(289.8 600.5) scale(1 1.03)" font-size="27" font-weight="bold" fill="#000" textLength="290.2" lengthAdjust="spacing"><tspan font-style="italic">Sulfitobacter</tspan> sp. CB-D</text>
<text transform="translate(254.6 1110.3) scale(1 1.04)" font-size="26.3" font-weight="bold" text-anchor="start" fill="#000" textLength="361.5" lengthAdjust="spacing">Time (hours post infection)</text>
<text transform="translate(21.4 838.8) rotate(-90) scale(1 1.04)" font-size="26.3" font-weight="bold" text-anchor="middle" fill="#000" textLength="237.3" lengthAdjust="spacing" stroke="#000" stroke-width="0.4">Phage abundance</text>
<text transform="translate(55 838.2) rotate(-90) scale(1 1.04)" font-size="26.3" font-weight="bold" text-anchor="middle" fill="#000" textLength="231" lengthAdjust="spacing" stroke="#000" stroke-width="0.4">(gene copies/mL)</text>
<line x1="1168.3" y1="641.9" x2="1168.3" y2="1037.4" stroke="#000" stroke-width="4" stroke-linecap="butt"/>
<line x1="1157.3" y1="1026.4" x2="1744.2" y2="1026.4" stroke="#000" stroke-width="4" stroke-linecap="butt"/>
<line x1="1157.3" y1="1026.4" x2="1168.3" y2="1026.4" stroke="#000" stroke-width="4" stroke-linecap="butt"/>
<text transform="translate(1153.1 1026.2) scale(1 1.09)" font-size="16.2" font-weight="bold" text-anchor="end" fill="#000" stroke="#000" stroke-width="0.25">7</text>
<text transform="translate(1141.5 1036.1) scale(1 1.08)" font-size="27" font-weight="bold" text-anchor="end" fill="#000" textLength="29.6" lengthAdjust="spacing">10</text>
<line x1="1161.9" y1="1007.21" x2="1168.3" y2="1007.21" stroke="#000" stroke-width="3.7" stroke-linecap="butt"/>
<line x1="1161.9" y1="995.98" x2="1168.3" y2="995.98" stroke="#000" stroke-width="3.7" stroke-linecap="butt"/>
<line x1="1161.9" y1="988.02" x2="1168.3" y2="988.02" stroke="#000" stroke-width="3.7" stroke-linecap="butt"/>
<line x1="1161.9" y1="981.84" x2="1168.3" y2="981.84" stroke="#000" stroke-width="3.7" stroke-linecap="butt"/>
<line x1="1161.9" y1="976.79" x2="1168.3" y2="976.79" stroke="#000" stroke-width="3.7" stroke-linecap="butt"/>
<line x1="1161.9" y1="972.52" x2="1168.3" y2="972.52" stroke="#000" stroke-width="3.7" stroke-linecap="butt"/>
<line x1="1161.9" y1="968.83" x2="1168.3" y2="968.83" stroke="#000" stroke-width="3.7" stroke-linecap="butt"/>
<line x1="1161.9" y1="965.57" x2="1168.3" y2="965.57" stroke="#000" stroke-width="3.7" stroke-linecap="butt"/>
<line x1="1157.3" y1="962.65" x2="1168.3" y2="962.65" stroke="#000" stroke-width="4" stroke-linecap="butt"/>
<text transform="translate(1153.1 962.45) scale(1 1.09)" font-size="16.2" font-weight="bold" text-anchor="end" fill="#000" stroke="#000" stroke-width="0.25">8</text>
<text transform="translate(1141.5 972.35) scale(1 1.08)" font-size="27" font-weight="bold" text-anchor="end" fill="#000" textLength="29.6" lengthAdjust="spacing">10</text>
<line x1="1161.9" y1="943.46" x2="1168.3" y2="943.46" stroke="#000" stroke-width="3.7" stroke-linecap="butt"/>
<line x1="1161.9" y1="932.23" x2="1168.3" y2="932.23" stroke="#000" stroke-width="3.7" stroke-linecap="butt"/>
<line x1="1161.9" y1="924.27" x2="1168.3" y2="924.27" stroke="#000" stroke-width="3.7" stroke-linecap="butt"/>
<line x1="1161.9" y1="918.09" x2="1168.3" y2="918.09" stroke="#000" stroke-width="3.7" stroke-linecap="butt"/>
<line x1="1161.9" y1="913.04" x2="1168.3" y2="913.04" stroke="#000" stroke-width="3.7" stroke-linecap="butt"/>
<line x1="1161.9" y1="908.77" x2="1168.3" y2="908.77" stroke="#000" stroke-width="3.7" stroke-linecap="butt"/>
<line x1="1161.9" y1="905.08" x2="1168.3" y2="905.08" stroke="#000" stroke-width="3.7" stroke-linecap="butt"/>
<line x1="1161.9" y1="901.82" x2="1168.3" y2="901.82" stroke="#000" stroke-width="3.7" stroke-linecap="butt"/>
<line x1="1157.3" y1="898.9" x2="1168.3" y2="898.9" stroke="#000" stroke-width="4" stroke-linecap="butt"/>
<text transform="translate(1153.1 898.7) scale(1 1.09)" font-size="16.2" font-weight="bold" text-anchor="end" fill="#000" stroke="#000" stroke-width="0.25">9</text>
<text transform="translate(1141.5 908.6) scale(1 1.08)" font-size="27" font-weight="bold" text-anchor="end" fill="#000" textLength="29.6" lengthAdjust="spacing">10</text>
<line x1="1161.9" y1="879.71" x2="1168.3" y2="879.71" stroke="#000" stroke-width="3.7" stroke-linecap="butt"/>
<line x1="1161.9" y1="868.48" x2="1168.3" y2="868.48" stroke="#000" stroke-width="3.7" stroke-linecap="butt"/>
<line x1="1161.9" y1="860.52" x2="1168.3" y2="860.52" stroke="#000" stroke-width="3.7" stroke-linecap="butt"/>
<line x1="1161.9" y1="854.34" x2="1168.3" y2="854.34" stroke="#000" stroke-width="3.7" stroke-linecap="butt"/>
<line x1="1161.9" y1="849.29" x2="1168.3" y2="849.29" stroke="#000" stroke-width="3.7" stroke-linecap="butt"/>
<line x1="1161.9" y1="845.02" x2="1168.3" y2="845.02" stroke="#000" stroke-width="3.7" stroke-linecap="butt"/>
<line x1="1161.9" y1="841.33" x2="1168.3" y2="841.33" stroke="#000" stroke-width="3.7" stroke-linecap="butt"/>
<line x1="1161.9" y1="838.07" x2="1168.3" y2="838.07" stroke="#000" stroke-width="3.7" stroke-linecap="butt"/>
<line x1="1157.3" y1="835.15" x2="1168.3" y2="835.15" stroke="#000" stroke-width="4" stroke-linecap="butt"/>
<text transform="translate(1153.4 834.95) scale(1 1.09)" font-size="16.2" font-weight="bold" text-anchor="end" fill="#000" stroke="#000" stroke-width="0.25">10</text>
<text transform="translate(1133.5 844.85) scale(1 1.08)" font-size="27" font-weight="bold" text-anchor="end" fill="#000" textLength="29.6" lengthAdjust="spacing">10</text>
<line x1="1161.9" y1="815.96" x2="1168.3" y2="815.96" stroke="#000" stroke-width="3.7" stroke-linecap="butt"/>
<line x1="1161.9" y1="804.73" x2="1168.3" y2="804.73" stroke="#000" stroke-width="3.7" stroke-linecap="butt"/>
<line x1="1161.9" y1="796.77" x2="1168.3" y2="796.77" stroke="#000" stroke-width="3.7" stroke-linecap="butt"/>
<line x1="1161.9" y1="790.59" x2="1168.3" y2="790.59" stroke="#000" stroke-width="3.7" stroke-linecap="butt"/>
<line x1="1161.9" y1="785.54" x2="1168.3" y2="785.54" stroke="#000" stroke-width="3.7" stroke-linecap="butt"/>
<line x1="1161.9" y1="781.27" x2="1168.3" y2="781.27" stroke="#000" stroke-width="3.7" stroke-linecap="butt"/>
<line x1="1161.9" y1="777.58" x2="1168.3" y2="777.58" stroke="#000" stroke-width="3.7" stroke-linecap="butt"/>
<line x1="1161.9" y1="774.32" x2="1168.3" y2="774.32" stroke="#000" stroke-width="3.7" stroke-linecap="butt"/>
<line x1="1157.3" y1="771.4" x2="1168.3" y2="771.4" stroke="#000" stroke-width="4" stroke-linecap="butt"/>
<text transform="translate(1153.4 771.2) scale(1 1.09)" font-size="16.2" font-weight="bold" text-anchor="end" fill="#000" stroke="#000" stroke-width="0.25">11</text>
<text transform="translate(1133.5 781.1) scale(1 1.08)" font-size="27" font-weight="bold" text-anchor="end" fill="#000" textLength="29.6" lengthAdjust="spacing">10</text>
<line x1="1161.9" y1="752.21" x2="1168.3" y2="752.21" stroke="#000" stroke-width="3.7" stroke-linecap="butt"/>
<line x1="1161.9" y1="740.98" x2="1168.3" y2="740.98" stroke="#000" stroke-width="3.7" stroke-linecap="butt"/>
<line x1="1161.9" y1="733.02" x2="1168.3" y2="733.02" stroke="#000" stroke-width="3.7" stroke-linecap="butt"/>
<line x1="1161.9" y1="726.84" x2="1168.3" y2="726.84" stroke="#000" stroke-width="3.7" stroke-linecap="butt"/>
<line x1="1161.9" y1="721.79" x2="1168.3" y2="721.79" stroke="#000" stroke-width="3.7" stroke-linecap="butt"/>
<line x1="1161.9" y1="717.52" x2="1168.3" y2="717.52" stroke="#000" stroke-width="3.7" stroke-linecap="butt"/>
<line x1="1161.9" y1="713.83" x2="1168.3" y2="713.83" stroke="#000" stroke-width="3.7" stroke-linecap="butt"/>
<line x1="1161.9" y1="710.57" x2="1168.3" y2="710.57" stroke="#000" stroke-width="3.7" stroke-linecap="butt"/>
<line x1="1157.3" y1="707.65" x2="1168.3" y2="707.65" stroke="#000" stroke-width="4" stroke-linecap="butt"/>
<text transform="translate(1153.4 707.45) scale(1 1.09)" font-size="16.2" font-weight="bold" text-anchor="end" fill="#000" stroke="#000" stroke-width="0.25">12</text>
<text transform="translate(1133.5 717.35) scale(1 1.08)" font-size="27" font-weight="bold" text-anchor="end" fill="#000" textLength="29.6" lengthAdjust="spacing">10</text>
<line x1="1161.9" y1="688.46" x2="1168.3" y2="688.46" stroke="#000" stroke-width="3.7" stroke-linecap="butt"/>
<line x1="1161.9" y1="677.23" x2="1168.3" y2="677.23" stroke="#000" stroke-width="3.7" stroke-linecap="butt"/>
<line x1="1161.9" y1="669.27" x2="1168.3" y2="669.27" stroke="#000" stroke-width="3.7" stroke-linecap="butt"/>
<line x1="1161.9" y1="663.09" x2="1168.3" y2="663.09" stroke="#000" stroke-width="3.7" stroke-linecap="butt"/>
<line x1="1161.9" y1="658.04" x2="1168.3" y2="658.04" stroke="#000" stroke-width="3.7" stroke-linecap="butt"/>
<line x1="1161.9" y1="653.77" x2="1168.3" y2="653.77" stroke="#000" stroke-width="3.7" stroke-linecap="butt"/>
<line x1="1161.9" y1="650.08" x2="1168.3" y2="650.08" stroke="#000" stroke-width="3.7" stroke-linecap="butt"/>
<line x1="1161.9" y1="646.82" x2="1168.3" y2="646.82" stroke="#000" stroke-width="3.7" stroke-linecap="butt"/>
<line x1="1157.3" y1="643.9" x2="1168.3" y2="643.9" stroke="#000" stroke-width="4" stroke-linecap="butt"/>
<text transform="translate(1153.4 643.7) scale(1 1.09)" font-size="16.2" font-weight="bold" text-anchor="end" fill="#000" stroke="#000" stroke-width="0.25">13</text>
<text transform="translate(1133.5 653.6) scale(1 1.08)" font-size="27" font-weight="bold" text-anchor="end" fill="#000" textLength="29.6" lengthAdjust="spacing">10</text>
<line x1="1168.3" y1="1026.4" x2="1168.3" y2="1037.4" stroke="#000" stroke-width="4" stroke-linecap="butt"/>
<text transform="translate(1168.3 1070) scale(1 1.04)" font-size="29.5" font-weight="bold" text-anchor="middle" fill="#000">0</text>
<line x1="1359.6" y1="1026.4" x2="1359.6" y2="1037.4" stroke="#000" stroke-width="4" stroke-linecap="butt"/>
<text transform="translate(1359.6 1070) scale(1 1.04)" font-size="29.5" font-weight="bold" text-anchor="middle" fill="#000" textLength="32.5" lengthAdjust="spacing">10</text>
<line x1="1550.9" y1="1026.4" x2="1550.9" y2="1037.4" stroke="#000" stroke-width="4" stroke-linecap="butt"/>
<text transform="translate(1550.9 1070) scale(1 1.04)" font-size="29.5" font-weight="bold" text-anchor="middle" fill="#000" textLength="32.5" lengthAdjust="spacing">20</text>
<line x1="1742.2" y1="1026.4" x2="1742.2" y2="1037.4" stroke="#000" stroke-width="4" stroke-linecap="butt"/>
<text transform="translate(1742.2 1070) scale(1 1.04)" font-size="29.5" font-weight="bold" text-anchor="middle" fill="#000" textLength="32.5" lengthAdjust="spacing">30</text>
<text transform="translate(1019.2 652.4)" font-size="44.5" font-weight="bold" text-anchor="start" fill="#000">D</text>
<text transform="translate(1312.6 600.5) scale(1 1.03)" font-size="27" font-weight="bold" fill="#000" textLength="289" lengthAdjust="spacing"><tspan font-style="italic">Sulfitobacter</tspan> sp. CB-A</text>
<text transform="translate(1275.3 1110.3) scale(1 1.04)" font-size="26.3" font-weight="bold" text-anchor="start" fill="#000" textLength="361.5" lengthAdjust="spacing">Time (hours post infection)</text>
<text transform="translate(1042.1 838.8) rotate(-90) scale(1 1.04)" font-size="26.3" font-weight="bold" text-anchor="middle" fill="#000" textLength="237.3" lengthAdjust="spacing" stroke="#000" stroke-width="0.4">Phage abundance</text>
<text transform="translate(1075.7 838.2) rotate(-90) scale(1 1.04)" font-size="26.3" font-weight="bold" text-anchor="middle" fill="#000" textLength="231" lengthAdjust="spacing" stroke="#000" stroke-width="0.4">(gene copies/mL)</text>
<path d="M147.7 957.8 L262.48 886.1 L319.87 824.5 L606.82 814.8" fill="none" stroke="#9a9a9a" stroke-width="3.9" stroke-linecap="round" stroke-linejoin="round" stroke-dasharray="0 11.464"/>
<line x1="147.7" y1="947.5" x2="147.7" y2="974.9" stroke="#9a9a9a" stroke-width="3.8" stroke-linecap="butt"/>
<line x1="139.9" y1="947.5" x2="155.5" y2="947.5" stroke="#9a9a9a" stroke-width="3.8" stroke-linecap="butt"/>
<line x1="139.9" y1="974.9" x2="155.5" y2="974.9" stroke="#9a9a9a" stroke-width="3.8" stroke-linecap="butt"/>
<path d="M139.65 949.9 L155.75 949.9 L147.7 966 Z" fill="#9a9a9a"/>
<line x1="262.48" y1="883.2" x2="262.48" y2="894" stroke="#9a9a9a" stroke-width="3.8" stroke-linecap="butt"/>
<line x1="254.68" y1="894" x2="270.28" y2="894" stroke="#9a9a9a" stroke-width="3.8" stroke-linecap="butt"/>
<path d="M254.43 878.2 L270.53 878.2 L262.48 894.3 Z" fill="#9a9a9a"/>
<path d="M311.82 816.6 L327.92 816.6 L319.87 832.7 Z" fill="#9a9a9a"/>
<line x1="606.82" y1="811.9" x2="606.82" y2="822.8" stroke="#9a9a9a" stroke-width="3.8" stroke-linecap="butt"/>
<line x1="599.02" y1="822.8" x2="614.62" y2="822.8" stroke="#9a9a9a" stroke-width="3.8" stroke-linecap="butt"/>
<path d="M598.77 806.9 L614.87 806.9 L606.82 823 Z" fill="#9a9a9a"/>
<path d="M147.7 1008.7 L262.48 802.9 L319.87 728.8 L606.82 711.7" fill="none" stroke="#585858" stroke-width="3.9" stroke-linecap="round" stroke-linejoin="round" stroke-dasharray="0 11.464"/>
<line x1="147.7" y1="1008.7" x2="147.7" y2="1018.3" stroke="#606060" stroke-width="3.8" stroke-linecap="butt"/>
<line x1="139.9" y1="1018.3" x2="155.5" y2="1018.3" stroke="#606060" stroke-width="3.8" stroke-linecap="butt"/>
<circle cx="147.7" cy="1008.7" r="7.95" fill="#606060"/>
<line x1="262.48" y1="786.2" x2="262.48" y2="849.6" stroke="#606060" stroke-width="3.8" stroke-linecap="butt"/>
<line x1="254.68" y1="786.2" x2="270.28" y2="786.2" stroke="#606060" stroke-width="3.8" stroke-linecap="butt"/>
<line x1="254.68" y1="849.6" x2="270.28" y2="849.6" stroke="#606060" stroke-width="3.8" stroke-linecap="butt"/>
<circle cx="262.48" cy="802.9" r="7.95" fill="#606060"/>
<line x1="319.87" y1="707.3" x2="319.87" y2="728.8" stroke="#606060" stroke-width="3.8" stroke-linecap="butt"/>
<line x1="312.07" y1="707.3" x2="327.67" y2="707.3" stroke="#606060" stroke-width="3.8" stroke-linecap="butt"/>
<circle cx="319.87" cy="728.8" r="7.95" fill="#606060"/>
<line x1="606.82" y1="689.4" x2="606.82" y2="711.7" stroke="#606060" stroke-width="3.8" stroke-linecap="butt"/>
<line x1="599.02" y1="689.4" x2="614.62" y2="689.4" stroke="#606060" stroke-width="3.8" stroke-linecap="butt"/>
<circle cx="606.82" cy="711.7" r="7.95" fill="#606060"/>
<path d="M1168.3 929.3 L1283.08 768.1 L1340.47 754.9 L1627.42 763.9" fill="none" stroke="#9a9a9a" stroke-width="3.9" stroke-linecap="round" stroke-linejoin="round" stroke-dasharray="0 11.464"/>
<line x1="1168.3" y1="914.9" x2="1168.3" y2="957.2" stroke="#9a9a9a" stroke-width="3.8" stroke-linecap="butt"/>
<line x1="1160.5" y1="914.9" x2="1176.1" y2="914.9" stroke="#9a9a9a" stroke-width="3.8" stroke-linecap="butt"/>
<line x1="1160.5" y1="957.2" x2="1176.1" y2="957.2" stroke="#9a9a9a" stroke-width="3.8" stroke-linecap="butt"/>
<path d="M1160.25 921.4 L1176.35 921.4 L1168.3 937.5 Z" fill="#9a9a9a"/>
<line x1="1283.08" y1="755.6" x2="1283.08" y2="793" stroke="#9a9a9a" stroke-width="3.8" stroke-linecap="butt"/>
<line x1="1275.28" y1="755.6" x2="1290.88" y2="755.6" stroke="#9a9a9a" stroke-width="3.8" stroke-linecap="butt"/>
<line x1="1275.28" y1="793" x2="1290.88" y2="793" stroke="#9a9a9a" stroke-width="3.8" stroke-linecap="butt"/>
<path d="M1275.03 760.2 L1291.13 760.2 L1283.08 776.3 Z" fill="#9a9a9a"/>
<path d="M1332.42 747 L1348.52 747 L1340.47 763.1 Z" fill="#9a9a9a"/>
<line x1="1627.42" y1="756.1" x2="1627.42" y2="775.9" stroke="#9a9a9a" stroke-width="3.8" stroke-linecap="butt"/>
<line x1="1619.62" y1="756.1" x2="1635.22" y2="756.1" stroke="#9a9a9a" stroke-width="3.8" stroke-linecap="butt"/>
<line x1="1619.62" y1="775.9" x2="1635.22" y2="775.9" stroke="#9a9a9a" stroke-width="3.8" stroke-linecap="butt"/>
<path d="M1619.37 756 L1635.47 756 L1627.42 772.1 Z" fill="#9a9a9a"/>
<path d="M1168.3 972.2 L1283.08 838.7 L1340.47 813.6 L1627.42 816.2" fill="none" stroke="#585858" stroke-width="3.9" stroke-linecap="round" stroke-linejoin="round" stroke-dasharray="0 11.464"/>
<line x1="1168.3" y1="953.7" x2="1168.3" y2="972.2" stroke="#606060" stroke-width="3.8" stroke-linecap="butt"/>
<line x1="1160.5" y1="953.7" x2="1176.1" y2="953.7" stroke="#606060" stroke-width="3.8" stroke-linecap="butt"/>
<circle cx="1168.3" cy="972.2" r="7.95" fill="#606060"/>
<line x1="1283.08" y1="826.9" x2="1283.08" y2="860.8" stroke="#606060" stroke-width="3.8" stroke-linecap="butt"/>
<line x1="1275.28" y1="826.9" x2="1290.88" y2="826.9" stroke="#606060" stroke-width="3.8" stroke-linecap="butt"/>
<line x1="1275.28" y1="860.8" x2="1290.88" y2="860.8" stroke="#606060" stroke-width="3.8" stroke-linecap="butt"/>
<circle cx="1283.08" cy="838.7" r="7.95" fill="#606060"/>
<line x1="1340.47" y1="795.9" x2="1340.47" y2="890.4" stroke="#606060" stroke-width="3.8" stroke-linecap="butt"/>
<line x1="1332.67" y1="795.9" x2="1348.27" y2="795.9" stroke="#606060" stroke-width="3.8" stroke-linecap="butt"/>
<line x1="1332.67" y1="890.4" x2="1348.27" y2="890.4" stroke="#606060" stroke-width="3.8" stroke-linecap="butt"/>
<circle cx="1340.47" cy="813.6" r="7.95" fill="#606060"/>
<line x1="1627.42" y1="796.3" x2="1627.42" y2="816.2" stroke="#606060" stroke-width="3.8" stroke-linecap="butt"/>
<line x1="1619.62" y1="796.3" x2="1635.22" y2="796.3" stroke="#606060" stroke-width="3.8" stroke-linecap="butt"/>
<circle cx="1627.42" cy="816.2" r="7.95" fill="#606060"/>
<circle cx="701.3" cy="786.6" r="1.95" fill="#585858"/>
<circle cx="711.7" cy="786.6" r="1.95" fill="#585858"/>
<circle cx="723.5" cy="786.6" r="1.95" fill="#585858"/>
<circle cx="735" cy="786.6" r="1.95" fill="#585858"/>
<rect x="697" y="783.6" width="4.3" height="6" fill="#fff"/>
<circle cx="699.9" cy="838.4" r="1.95" fill="#9a9a9a"/>
<circle cx="710.3" cy="838.4" r="1.95" fill="#9a9a9a"/>
<circle cx="722.1" cy="838.4" r="1.95" fill="#9a9a9a"/>
<circle cx="733.6" cy="838.4" r="1.95" fill="#9a9a9a"/>
<rect x="695.6" y="835.4" width="4.3" height="6" fill="#fff"/>
<circle cx="721" cy="786.6" r="7.95" fill="#606060"/>
<path d="M711.55 830.5 L727.65 830.5 L719.6 846.6 Z" fill="#9a9a9a"/>
<text transform="translate(764.9 796.5) scale(1 1.03)" font-size="27" font-weight="normal" text-anchor="start" fill="#000">ϕ-A</text>
<text transform="translate(763.3 848.2) scale(1 1.03)" font-size="27" font-weight="normal" text-anchor="start" fill="#000">ϕ-D</text>
<circle cx="1718.6" cy="780.7" r="1.95" fill="#585858"/>
<circle cx="1729" cy="780.7" r="1.95" fill="#585858"/>
<circle cx="1740.8" cy="780.7" r="1.95" fill="#585858"/>
<circle cx="1752.3" cy="780.7" r="1.95" fill="#585858"/>
<rect x="1714.3" y="777.7" width="4.3" height="6" fill="#fff"/>
<circle cx="1716.7" cy="832.1" r="1.95" fill="#9a9a9a"/>
<circle cx="1727.1" cy="832.1" r="1.95" fill="#9a9a9a"/>
<circle cx="1738.9" cy="832.1" r="1.95" fill="#9a9a9a"/>
<circle cx="1750.4" cy="832.1" r="1.95" fill="#9a9a9a"/>
<rect x="1712.4" y="829.1" width="4.3" height="6" fill="#fff"/>
<circle cx="1738.3" cy="780.7" r="7.95" fill="#606060"/>
<path d="M1728.35 824.2 L1744.45 824.2 L1736.4 840.3 Z" fill="#9a9a9a"/>
<text transform="translate(1781.3 791.3) scale(1 1.03)" font-size="27" font-weight="normal" text-anchor="start" fill="#000">ϕ-A</text>
<text transform="translate(1779.3 842.7) scale(1 1.03)" font-size="27" font-weight="normal" text-anchor="start" fill="#000">ϕ-D</text>
</svg></body></html>
